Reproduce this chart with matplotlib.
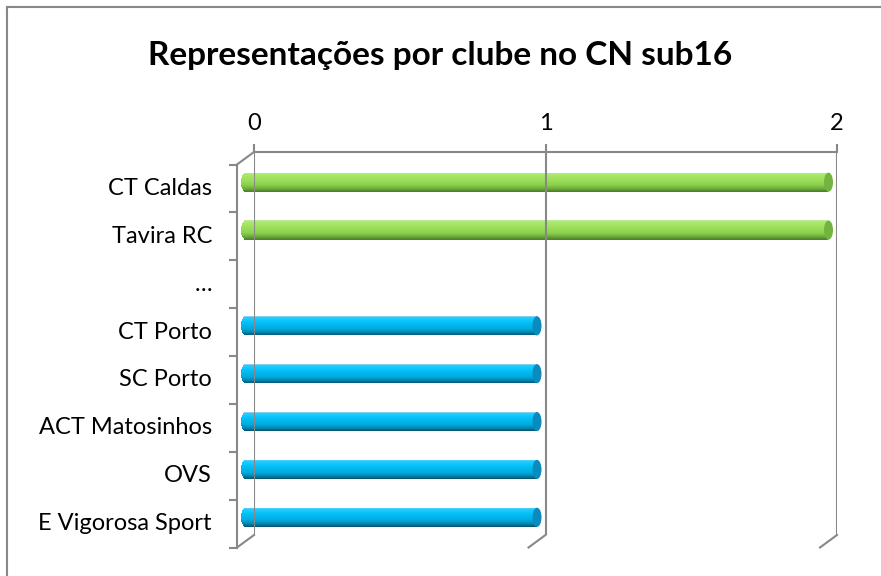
import numpy as np
import matplotlib
matplotlib.use('Agg')
import matplotlib.pyplot as plt
import matplotlib.transforms as mtrans
from matplotlib.patches import Ellipse
from matplotlib.lines import Line2D
from matplotlib.colors import to_rgb

# Data: two series, green (top group) and blue
clubs = ["CT Caldas", "Tavira RC", "\u2026", "CT Porto", "SC Porto",
         "ACT Matosinhos", "OVS", "E Vigorosa Sport"]
reps_green = [2, 2, 0, 0, 0, 0, 0, 0]
reps_blue = [0, 0, 0, 1, 1, 1, 1, 1]
x_ticks = [0, 1, 2]
title = "Representações por clube no CN sub16"

plt.rcParams['font.family'] = ['Lato', 'DejaVu Sans']

W, H = 881, 576
fig = plt.figure(figsize=(W / 100, H / 100), dpi=100)
fig.patch.set_facecolor('white')

# back wall of the 3d box
left, right, top, bottom = 254, 837, 152, 535
ax = fig.add_axes([left / W, (H - bottom) / H, (right - left) / W, (bottom - top) / H])
ax.set_xlim(0, 2)
ax.set_ylim(len(clubs) - 0.5, -0.5)

gray = '#888888'
lw = 1.5

for s in ['left', 'right', 'bottom']:
    ax.spines[s].set_visible(False)
ax.spines['top'].set_color(gray)
ax.spines['top'].set_linewidth(lw)
ax.set_facecolor('none')
ax.xaxis.tick_top()
ax.set_xticks(x_ticks)
ax.tick_params(axis='x', length=5.8, width=lw, color=gray, pad=7, labelsize=17)
ax.set_yticks([])
ax.grid(axis='x', color=gray, linewidth=lw)

# depth offsets (front plane and bar plane)
dx, dy = -17, -12.5
front = mtrans.offset_copy(ax.transData, fig=fig, x=dx, y=dy, units='dots')
mid = mtrans.offset_copy(ax.transData, fig=fig, x=dx / 2, y=dy / 2, units='dots')
lab = mtrans.offset_copy(ax.transData, fig=fig, x=dx - 25, y=dy, units='dots')

y = np.arange(len(clubs))
edges = np.arange(len(clubs) + 1) - 0.5

# front vertical axis with ticks
ax.plot([0, 0], [edges[0], edges[-1]], color=gray, lw=lw, transform=front, clip_on=False)
ax.plot(np.zeros_like(edges), edges, linestyle='none', marker=0, markersize=5.8,
        markeredgewidth=lw, color=gray, transform=front, clip_on=False)


def depth_line(xv, yv):
    p_back = (xv, yv)
    p_front = ax.transData.inverted().transform(front.transform((xv, yv)))
    ax.plot([p_back[0], p_front[0]], [p_back[1], p_front[1]], color=gray, lw=lw, clip_on=False)


depth_line(0, edges[0])
for xv in x_ticks:
    depth_line(xv, edges[-1])

# category labels on the front plane
for yi, name in zip(y, clubs):
    ax.text(0, yi, name, transform=lab, ha='right', va='center', fontsize=17, clip_on=False)

# cylinder bars
bar_h = 0.4
n_strip = 30
stops = [0, 0.07, 0.35, 0.65, 0.85, 1.0]
shades = {
    'green': ['#c3e6a8', '#a9ea6a', '#9ee05c', '#8ad04c', '#6aa838', '#4b8029'],
    'blue': ['#9ad8ee', '#26cbff', '#00bff7', '#00aadd', '#0083ad', '#00526c'],
}
cap_col = {'green': '#72b43f', 'blue': '#0a8bbd'}
cap_w = 9 / 291.5

for series, cname in [(reps_green, 'green'), (reps_blue, 'blue')]:
    vals = np.array(series, dtype=float)
    rgb = np.array([to_rgb(c) for c in shades[cname]])
    has = vals > 0
    for k in range(n_strip):
        f = (k + 0.5) / n_strip
        col = [np.interp(f, stops, rgb[:, j]) for j in range(3)]
        off = -bar_h / 2 + (k + 0.5) * bar_h / n_strip
        # rounded left end: half-width of the end ellipse at this strip
        hw = cap_w / 2 * np.sqrt(max(0.0, 1 - (2 * f - 1) ** 2))
        ax.barh(y[has] + off, vals[has] + hw, left=-hw, height=bar_h / n_strip * 1.05,
                color=col, linewidth=0, transform=mid, clip_on=False)
    for yi, v in zip(y[has], vals[has]):
        ax.add_patch(Ellipse((v, yi), cap_w, bar_h, color=cap_col[cname], lw=0,
                             transform=mid, clip_on=False))

fig.text(0.5, 1 - 55 / H, title, ha='center', va='center', fontsize=24, fontweight='bold')

# chart border (left and top visible)
fig.add_artist(Line2D([7 / W, 7 / W], [0, 1 - 7 / H], color=gray, lw=1.5))
fig.add_artist(Line2D([7 / W, 1], [1 - 7 / H, 1 - 7 / H], color=gray, lw=1.5))

fig.savefig('out.png', dpi=100)
